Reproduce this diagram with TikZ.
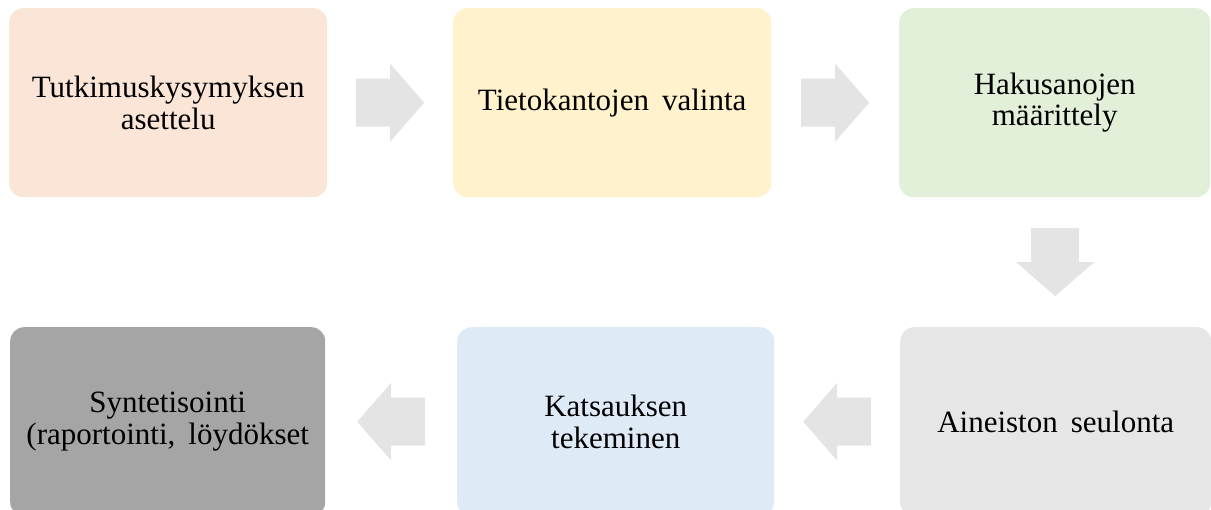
\documentclass[tikz,border=0pt]{standalone}
\usepackage{fontspec}
\setmainfont{Liberation Serif}
\usetikzlibrary{calc}
\definecolor{cPeach}{HTML}{FBE5D6}
\definecolor{cYellow}{HTML}{FFF2CC}
\definecolor{cGreen}{HTML}{E2F0D9}
\definecolor{cGrayL}{HTML}{E6E6E6}
\definecolor{cBlue}{HTML}{DEEBF7}
\definecolor{cGrayD}{HTML}{A5A5A5}
\definecolor{cArrow}{HTML}{E4E4E4}
\newcommand{\stepfont}{\fontsize{31}{31.5}\selectfont\spaceskip=13pt plus 3pt\relax}
\newcommand{\blkarrow}[2]{%
  \fill[arrowfill, shift={(#1)}, rotate=#2]
    (-34,-24) -- (0,-24) -- (0,-39) -- (34,0) -- (0,39) -- (0,24) -- (-34,24) -- cycle;}
\begin{document}
\begin{tikzpicture}[x=1pt,y=1pt,
  stepbox/.style={draw=none, rounded corners=14pt, anchor=north west,
    minimum height=189pt, inner sep=4pt, align=center,
    font=\stepfont, text=black},
  arrowfill/.style={fill=cArrow, draw=none}]
\useasboundingbox (0,0) rectangle (1211,510);
\begin{scope}
\clip (0,0) rectangle (1211,510);
\node[stepbox, fill=cPeach, minimum width=318pt] (b1) at (9,502) {Tutkimuskysymyksen\\asettelu};
\node[stepbox, fill=cYellow, minimum width=318pt] (b2) at (453,502) {Tietokantojen valinta};
\node[stepbox, fill=cGreen, minimum width=311pt] (b3) at (899,502) {Hakusanojen\\määrittely};
\node[stepbox, fill=cGrayL, minimum width=311pt] (b6) at (900,183) {Aineiston seulonta};
\node[stepbox, fill=cBlue, minimum width=317pt] (b5) at (457,183) {Katsauksen\\tekeminen};
\node[stepbox, fill=cGrayD, minimum width=315pt] (b4) at (10,183) {Syntetisointi\\(raportointi, löydökset};
\coordinate (a12) at ($(b1.east)!0.5!(b2.west)$);
\coordinate (a23) at ($(b2.east)!0.5!(b3.west)$);
\coordinate (a36) at ($(b3.south)!0.5!(b6.north)$);
\coordinate (a65) at ($(b6.west)!0.5!(b5.east)$);
\coordinate (a54) at ($(b5.west)!0.5!(b4.east)$);
\blkarrow{a12}{0}
\blkarrow{a23}{0}
\blkarrow{a36}{-90}
\blkarrow{a65}{180}
\blkarrow{a54}{180}
\end{scope}
\end{tikzpicture}
\end{document}
